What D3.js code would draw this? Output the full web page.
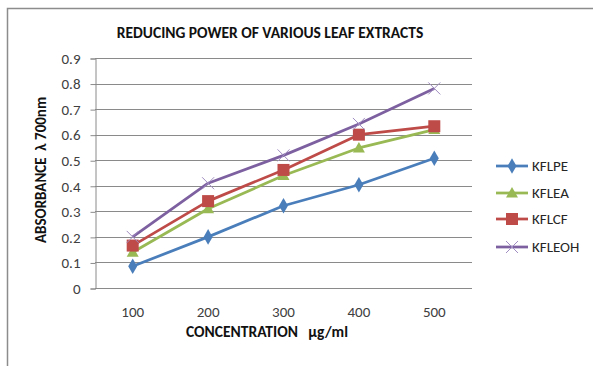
<!DOCTYPE html>
<html>
<head>
<meta charset="utf-8">
<script src="https://cdn.jsdelivr.net/npm/d3@7"></script>
<style>
  html, body { margin: 0; padding: 0; background: #fff; }
  svg { display: block; font-family: Carlito, Lato, "Open Sans", sans-serif; }
</style>
</head>
<body>
<svg id="chart" width="593" height="366"></svg>
<script>
// Reducing power (absorbance at 700 nm) of four leaf extracts
const concentrations = ["100", "200", "300", "400", "500"];
const seriesNames = ["KFLPE", "KFLEA", "KFLCF", "KFLEOH"];
const kflpe  = [0.085, 0.200, 0.322, 0.404, 0.508];
const kflea  = [0.140, 0.310, 0.440, 0.548, 0.620];
const kflcf  = [0.166, 0.340, 0.462, 0.600, 0.633];
const kfleoh = [0.200, 0.410, 0.519, 0.642, 0.781];
const yTicks = [0, 0.1, 0.2, 0.3, 0.4, 0.5, 0.6, 0.7, 0.8, 0.9];

const colors  = ["#4A7EBB", "#98B954", "#BE4B48", "#7D60A0"];
const symbols = ["diamond", "triangle", "square", "cross"];
const seriesValues = [kflpe, kflea, kflcf, kfleoh];

const svg = d3.select("#chart");

// chart frame (left and top edges)
svg.append("path")
  .attr("d", "M7.5,366 V8.5 H593")
  .attr("fill", "none").attr("stroke", "#8c8c8c").attr("stroke-width", 1.5);

const plot = { left: 95, right: 472, top: 58, bottom: 288 };

const x = d3.scaleBand().domain(concentrations).range([plot.left, plot.right]);
const y = d3.scaleLinear().domain([0, 0.9]).range([plot.bottom, plot.top]);

// horizontal gridlines
svg.append("g").selectAll("line").data(yTicks.slice(1)).join("line")
  .attr("x1", plot.left).attr("x2", plot.right)
  .attr("y1", d => Math.round(y(d)) + 0.5).attr("y2", d => Math.round(y(d)) + 0.5)
  .attr("stroke", "#8a8a8a").attr("stroke-width", 1);

// y axis
const yAxis = svg.append("g")
  .attr("transform", `translate(${plot.left + 0.5},0.5)`)
  .call(d3.axisLeft(y).tickValues(yTicks).tickSize(5).tickPadding(10)
    .tickFormat(d => d === 0 ? "0" : d3.format(".1f")(d)));
yAxis.select(".domain").attr("stroke", "#8a8a8a");
yAxis.selectAll(".tick line").attr("stroke", "#8a8a8a");
yAxis.selectAll(".tick text").attr("fill", "#404040")
  .style("font-size", "15px").style("font-family", "Carlito, Lato, sans-serif");

// x axis
const xAxis = svg.append("g")
  .attr("transform", `translate(0,${plot.bottom + 0.5})`)
  .call(d3.axisBottom(x).tickSize(0).tickPadding(18));
xAxis.select(".domain").attr("stroke", "#8a8a8a").attr("d", `M${plot.left},0H${plot.right}`);
xAxis.selectAll(".tick text").attr("fill", "#404040")
  .style("font-size", "15px").style("font-family", "Carlito, Lato, sans-serif");

// series lines
const line = d3.line()
  .x((d, i) => x(concentrations[i]) + x.bandwidth() / 2)
  .y(d => y(d));

function marker(g, type, color, cx, cy) {
  if (type === "diamond") {
    g.append("path").attr("d", d3.symbol(d3.symbolDiamond, 70)())
      .attr("transform", `translate(${cx},${cy})`).attr("fill", color);
  } else if (type === "triangle") {
    g.append("path").attr("d", `M0,-6 L6,4.5 L-6,4.5 Z`)
      .attr("transform", `translate(${cx},${cy})`).attr("fill", color);
  } else if (type === "square") {
    g.append("rect").attr("x", cx - 6).attr("y", cy - 6)
      .attr("width", 12).attr("height", 12).attr("fill", color);
  } else {
    g.append("path").attr("d", "M-6,-6 L6,6 M-6,6 L6,-6")
      .attr("transform", `translate(${cx},${cy})`)
      .attr("stroke", "#a08cc0").attr("stroke-width", 1).attr("fill", "none");
  }
}

seriesValues.forEach((vals, s) => {
  const g = svg.append("g");
  g.append("path").datum(vals).attr("d", line)
    .attr("fill", "none").attr("stroke", colors[s]).attr("stroke-width", 2.75)
    .attr("stroke-linejoin", "round");
  vals.forEach((v, i) => {
    marker(g, symbols[s], colors[s], x(concentrations[i]) + x.bandwidth() / 2, y(v));
  });
});

// legend
const legendRows = [166, 193, 219, 247];
seriesNames.forEach((name, s) => {
  const g = svg.append("g");
  const ly = legendRows[s];
  g.append("line").attr("x1", 496).attr("x2", 528).attr("y1", ly).attr("y2", ly)
    .attr("stroke", colors[s]).attr("stroke-width", 2.75);
  marker(g, symbols[s], colors[s], 512, ly);
  g.append("text").attr("x", 532).attr("y", ly).attr("dy", "0.35em")
    .attr("fill", "#262626").style("font-size", "15px").text(name);
});

// titles
svg.append("text").attr("x", 270).attr("y", 33).attr("dy", "0.35em")
  .attr("text-anchor", "middle").attr("font-weight", "bold")
  .style("font-size", "15.5px").attr("fill", "#111").text("REDUCING POWER OF VARIOUS LEAF EXTRACTS");

svg.append("text").attr("x", 267).attr("y", 332).attr("dy", "0.35em")
  .attr("text-anchor", "middle").attr("font-weight", "bold")
  .style("font-size", "15.5px").attr("fill", "#111")
  .text("CONCENTRATION\u00a0\u00a0 µg/ml");

svg.append("text").attr("transform", "translate(41,170) rotate(-90)").attr("dy", "0.35em")
  .attr("text-anchor", "middle").attr("font-weight", "bold")
  .style("font-size", "15px").attr("fill", "#111")
  .text("ABSORBANCE\u00a0\u00a0λ 700nm");
</script>
</body>
</html>
